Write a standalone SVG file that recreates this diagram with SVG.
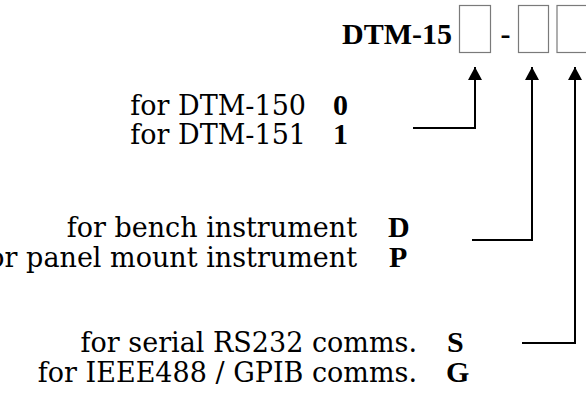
<svg xmlns="http://www.w3.org/2000/svg" width="586" height="396" viewBox="0 0 586 396">
<style>
  .b { font-family: 'Liberation Serif', serif; font-size: 30px; font-weight: bold; fill: #000; }
  .r { font-family: 'DejaVu Serif', serif; font-size: 27px; fill: #000; text-anchor: end; }
  .box { fill: #fff; stroke: #7a7a7a; stroke-width: 1.2; }
  .conn { fill: none; stroke: #000; stroke-width: 2; }
</style>
<defs>
  <marker id="ah" markerUnits="userSpaceOnUse" markerWidth="14" markerHeight="14" refX="13" refY="7" orient="auto" viewBox="0 0 14 14">
    <path d="M0,0 L13,7 L0,14 Z" fill="#000"/>
  </marker>
</defs>
<rect width="586" height="396" fill="#fff"/>
<g id="code">
  <text class="b" x="342" y="44">DTM-15</text>
  <rect class="box" x="459.5" y="5.5" width="31" height="47"/>
  <text class="b" x="500.5" y="44">-</text>
  <rect class="box" x="518.5" y="5.5" width="30" height="47"/>
  <rect class="box" x="557" y="5.5" width="30" height="47"/>
</g>
<g id="model">
  <text class="r" x="306" y="115">for DTM-150</text>
  <text class="r" x="306" y="144">for DTM-151</text>
  <text class="b" x="333" y="115">0</text>
  <text class="b" x="333" y="144">1</text>
</g>
<g id="mount">
  <text class="r" x="357" y="237">for bench instrument</text>
  <text class="r" x="357" y="267">for panel mount instrument</text>
  <text class="b" x="388" y="237">D</text>
  <text class="b" x="389" y="267">P</text>
</g>
<g id="comms">
  <text class="r" x="417" y="352">for serial RS232 comms.</text>
  <text class="r" x="417" y="382">for IEEE488 / GPIB comms.</text>
  <text class="b" x="447" y="352">S</text>
  <text class="b" x="446" y="382">G</text>
</g>
<g id="connectors">
  <path class="conn" d="M413,128 H475 V67" marker-end="url(#ah)"/>
  <path class="conn" d="M472,240 H532 V67" marker-end="url(#ah)"/>
  <path class="conn" d="M522,343 H575 V67" marker-end="url(#ah)"/>
</g>
</svg>
